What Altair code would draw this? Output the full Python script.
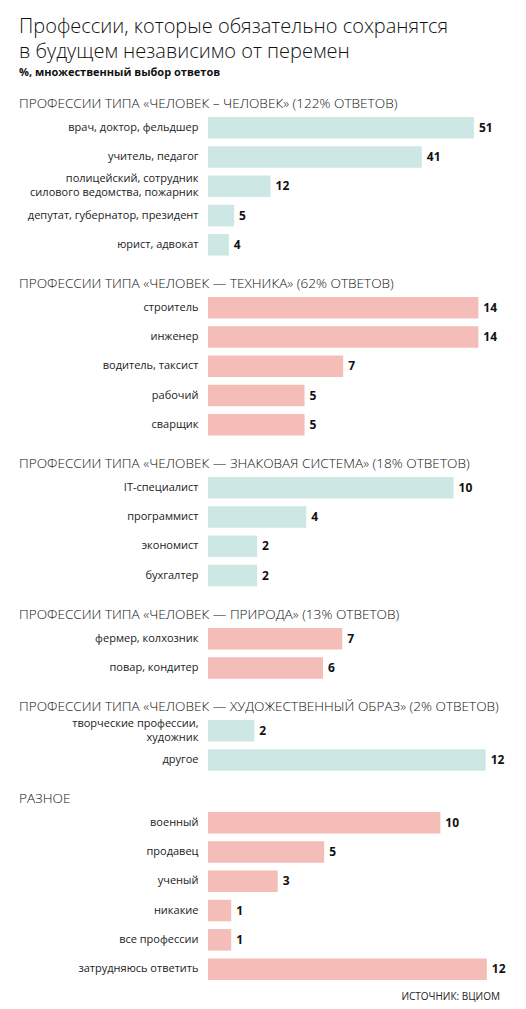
import altair as alt
import pandas as pd

# Data
headers = [
    "ПРОФЕССИИ ТИПА «ЧЕЛОВЕК – ЧЕЛОВЕК» (122% ОТВЕТОВ)",
    "ПРОФЕССИИ ТИПА «ЧЕЛОВЕК — ТЕХНИКА» (62% ОТВЕТОВ)",
    "ПРОФЕССИИ ТИПА «ЧЕЛОВЕК — ЗНАКОВАЯ СИСТЕМА» (18% ОТВЕТОВ)",
    "ПРОФЕССИИ ТИПА «ЧЕЛОВЕК — ПРИРОДА» (13% ОТВЕТОВ)",
    "ПРОФЕССИИ ТИПА «ЧЕЛОВЕК — ХУДОЖЕСТВЕННЫЙ ОБРАЗ» (2% ОТВЕТОВ)",
    "РАЗНОЕ",
]

g1_labels = ["врач, доктор, фельдшер", "учитель, педагог",
             "полицейский, сотрудник|силового ведомства, пожарник",
             "депутат, губернатор, президент", "юрист, адвокат"]
g1_values = [51, 41, 12, 5, 4]

g2_labels = ["строитель", "инженер", "водитель, таксист", "рабочий", "сварщик"]
g2_values = [14, 14, 7, 5, 5]

g3_labels = ["IT-специалист", "программист", "экономист", "бухгалтер"]
g3_values = [10, 4, 2, 2]

g4_labels = ["фермер, колхозник", "повар, кондитер"]
g4_values = [7, 6]

g5_labels = ["творческие профессии,|художник", "другое"]
g5_values = [2, 12]

g6_labels = ["военный", "продавец", "ученый", "никакие", "все профессии",
             "затрудняюсь ответить"]
g6_values = [10, 5, 3, 1, 1, 12]

TEAL = "#cde8e4"
PINK = "#f4bdb8"
FONT = "Open Sans"
W = 280
STEP = 29.3
AXIS_W = 195

# each group has its own x scale in the original
x_max = [53.7, 14.5, 11.4, 14.6, 12.1, 12.05]
colors = [TEAL, PINK, TEAL, PINK, TEAL, PINK]
groups = [(g1_labels, g1_values), (g2_labels, g2_values), (g3_labels, g3_values),
          (g4_labels, g4_values), (g5_labels, g5_values), (g6_labels, g6_values)]


def panel(i, source=False):
    labels, values = groups[i]
    df = pd.DataFrame({"label": labels, "value": values})
    base = alt.Chart(df).encode(
        y=alt.Y("label:N", sort=labels, title=None,
                axis=alt.Axis(domain=False, ticks=False, labelPadding=10,
                              minExtent=AXIS_W, maxExtent=AXIS_W, labelLimit=0,
                              labelFont=FONT, labelFontSize=11,
                              labelColor="#222222", labelLineHeight=14,
                              labelOffset={"condition": {"test": "indexof(datum.label, '|') >= 0",
                                                         "value": -7}, "value": 0},
                              labelExpr="split(datum.label, '|')")),
        x=alt.X("value:Q", axis=None,
                scale=alt.Scale(domain=[0, x_max[i]], nice=False, zero=True)),
    )
    bars = base.mark_bar(color=colors[i], height=21.5)
    nums = base.mark_text(align="left", dx=5, font=FONT, fontSize=12,
                          fontWeight="bold", color="#111111").encode(text="value:Q")
    layers = [bars, nums]
    if source:
        src = alt.Chart(pd.DataFrame({"t": ["ИСТОЧНИК: ВЦИОМ"]})).mark_text(
            align="right", baseline="middle", font=FONT, fontSize=10,
            color="#222222"
        ).encode(text="t:N", x=alt.value(292), y=alt.value(len(labels) * STEP + 13))
        layers.append(src)
    return alt.layer(*layers).properties(
        width=W,
        height=len(labels) * STEP,
        title=alt.Title(headers[i], anchor="start", frame="group", dx=-189,
                        font=FONT, fontSize=13.6, fontWeight=300,
                        color="#111111", offset=2),
    )


chart = alt.vconcat(
    *[panel(i, source=(i == 5)) for i in range(6)], spacing=17
).properties(
    padding={"left": 5, "top": 9, "right": 5, "bottom": 0},
    title=alt.Title(
        ["Профессии, которые обязательно сохранятся", "в будущем независимо от перемен"],
        subtitle="%, множественный выбор ответов",
        anchor="start", dx=6, font=FONT, fontSize=20, fontWeight=300, lineHeight=25,
        color="#111111", subtitleFont=FONT, subtitleFontSize=11,
        subtitleFontWeight="bold", subtitleColor="#111111", subtitlePadding=5,
        offset=19,
    )
).configure_view(stroke=None)

chart.save("out.html", embed_options={"renderer": "svg", "actions": False})
